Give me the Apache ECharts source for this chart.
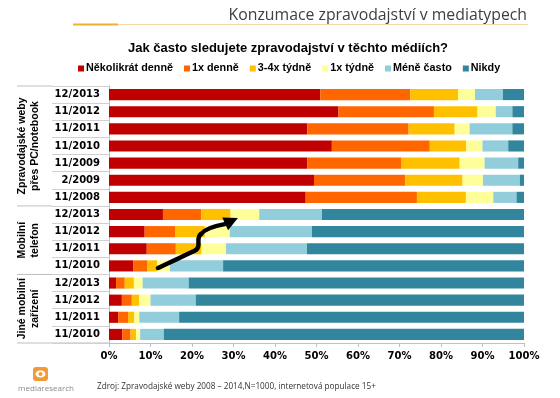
<!DOCTYPE html>
<html>
<head>
<meta charset="utf-8">
<script src="https://cdn.jsdelivr.net/npm/echarts@6/dist/echarts.min.js"></script>
<style>
  html, body { margin: 0; padding: 0; background: #fff; }
  #chart { width: 560px; height: 398px; }
</style>
</head>
<body>
<div id="chart"></div>
<script>
// rows top to bottom
var categories = [
  "12/2013", "11/2012", "11/2011", "11/2010", "11/2009", "2/2009", "11/2008",
  "12/2013", "11/2012", "11/2011", "11/2010",
  "12/2013", "11/2012", "11/2011", "11/2010"
];
var groupNames = [
  "Zpravodajské weby\npřes PC/notebook",
  "Mobilní\ntelefon",
  "Jiné mobilní\nzařízení"
];
var groupRows = [[0, 6], [7, 10], [11, 14]];

var seriesNames = ["Několikrát denně", "1x denně", "3-4x týdně", "1x týdně", "Méně často", "Nikdy"];
var nekolikrat = [50.9, 55.3, 47.8, 53.7, 47.8, 49.4, 47.4, 13.0, 8.6, 9.1, 5.9, 1.7, 3.1, 2.2, 3.2];
var denne1 = [21.7, 23.0, 24.4, 23.6, 22.7, 22.0, 26.8, 9.2, 7.3, 7.0, 3.4, 2.1, 2.4, 2.4, 2.0];
var tydne34 = [11.5, 10.5, 11.1, 8.8, 14.0, 13.8, 11.8, 7.1, 7.2, 6.2, 2.3, 2.2, 1.8, 1.5, 1.3];
var tydne1 = [4.1, 4.4, 3.6, 3.9, 6.0, 4.9, 6.6, 6.9, 6.0, 5.9, 3.1, 2.1, 2.7, 1.2, 1.0];
var meneCasto = [6.7, 4.0, 10.3, 6.2, 8.1, 8.9, 5.6, 15.1, 19.8, 19.5, 12.8, 11.1, 10.9, 9.6, 5.7];
var nikdy = [5.1, 2.8, 2.8, 3.8, 1.4, 1.0, 1.8, 48.7, 51.1, 52.3, 72.5, 80.8, 79.1, 83.1, 86.8];
var seriesData = [nekolikrat, denne1, tydne34, tydne1, meneCasto, nikdy];
var colors = ["#c00000", "#ff6600", "#ffc000", "#ffff99", "#92cddc", "#31859c"];

// arrow annotation in data space [value %, row index]: bezier pieces + tip
var arrowParts = [
  { from: [11.8, 10.12], cp1: [14.9, 9.77], cp2: [18.5, 9.37], to: [20.95, 9.07] },
  { from: [20.95, 9.07], cp1: [22.4, 8.84], cp2: [20.7, 8.43], to: [22.15, 8.14] },
  { from: [22.15, 8.14], cp1: [23.1, 7.85], cp2: [25.3, 7.67], to: [27.9, 7.56] }
];
var arrowTip = [31.06, 7.21];

var boldFont = "DejaVu Sans";
var chart = echarts.init(document.getElementById("chart"));

var series = seriesNames.map(function (name, i) {
  return {
    name: name,
    type: "bar",
    stack: "all",
    barCategoryGap: "35%",
    itemStyle: { color: colors[i] },
    data: seriesData[i]
  };
});

chart.setOption({
  animation: false,
  title: [
    {
      text: "Konzumace zpravodajství v mediatypech",
      right: 28,
      top: 2,
      textStyle: { fontFamily: "Open Sans", fontWeight: "normal", fontSize: 15.8, color: "#404040" }
    },
    {
      text: "Jak často sledujete zpravodajství v těchto médiích?",
      left: 283,
      textAlign: "center",
      top: 37,
      textStyle: { fontFamily: "Liberation Sans", fontWeight: "bold", fontSize: 13, color: "#000" }
    }
  ],
  legend: {
    top: 58,
    left: 73,
    itemWidth: 6,
    itemHeight: 6,
    itemGap: 11,
    icon: "rect",
    data: seriesNames,
    textStyle: { fontFamily: "Liberation Sans", fontWeight: "bold", fontSize: 10.8, color: "#000", padding: [0, 0, 0, -3] }
  },
  grid: { left: 109, right: 36, top: 86, bottom: 55 },
  xAxis: {
    type: "value",
    min: 0,
    max: 100,
    interval: 10,
    axisLine: { show: true, lineStyle: { color: "#bfbfbf" } },
    axisTick: { show: true, length: 4, lineStyle: { color: "#bfbfbf" } },
    splitLine: { show: false },
    axisLabel: {
      formatter: "{value}%",
      margin: 8,
      fontFamily: boldFont,
      fontWeight: "bold",
      fontSize: 10,
      color: "#000"
    }
  },
  yAxis: {
    type: "category",
    inverse: true,
    data: categories,
    axisLine: { show: true, lineStyle: { color: "#bfbfbf" } },
    axisTick: { show: true, length: 57, lineStyle: { color: "#d0d0d0" } },
    axisLabel: {
      margin: 9,
      fontFamily: boldFont,
      fontWeight: "bold",
      fontSize: 10,
      color: "#000"
    }
  },
  series: series
});

// graphics placed through the chart's own coordinate conversion
// (fractional rows are interpolated between two whole category rows)
function px(p) {
  var lo = Math.max(0, Math.min(categories.length - 2, Math.floor(p[1])));
  var a = chart.convertToPixel({ gridIndex: 0 }, [p[0], lo]);
  var b = chart.convertToPixel({ gridIndex: 0 }, [p[0], lo + 1]);
  return [a[0], a[1] + (p[1] - lo) * (b[1] - a[1])];
}
var graphics = [];
var lineLeft = 17, tickLeft = 52;

groupRows.forEach(function (g, i) {
  var yTop = px([0, g[0] - 0.5])[1];
  var yBot = px([0, g[1] + 0.5])[1];
  graphics.push({
    type: "line",
    shape: { x1: lineLeft, y1: yTop, x2: tickLeft, y2: yTop },
    style: { stroke: "#bfbfbf", lineWidth: 1 }
  });
  if (i === groupRows.length - 1) {
    graphics.push({
      type: "line",
      shape: { x1: lineLeft, y1: yBot, x2: 109, y2: yBot },
      style: { stroke: "#bfbfbf", lineWidth: 1 }
    });
  }
  graphics.push({
    type: "text",
    x: 29,
    y: (yTop + yBot) / 2,
    rotation: Math.PI / 2,
    style: {
      text: groupNames[i],
      fontFamily: "Liberation Sans",
      fontWeight: "bold",
      fontSize: 10.5,
      lineHeight: 13,
      fill: "#000",
      align: "center",
      verticalAlign: "middle"
    }
  });
});

// title underline
graphics.push({ type: "line", shape: { x1: 73, y1: 24.5, x2: 528, y2: 24.5 }, style: { stroke: "#f5d9a6", lineWidth: 1 } });
graphics.push({ type: "line", shape: { x1: 73, y1: 24.5, x2: 118, y2: 24.5 }, style: { stroke: "#f0b030", lineWidth: 2 } });

// arrow
arrowParts.forEach(function (b) {
  var a = px(b.from), c1 = px(b.cp1), c2 = px(b.cp2), e = px(b.to);
  graphics.push({
    type: "bezierCurve",
    z: 100,
    shape: { x1: a[0], y1: a[1], cpx1: c1[0], cpy1: c1[1], cpx2: c2[0], cpy2: c2[1], x2: e[0], y2: e[1] },
    style: { stroke: "#000", lineWidth: 4.5, fill: null, lineCap: "round" }
  });
});
var tip = px(arrowTip);
var last = px(arrowParts[arrowParts.length - 1].to);
var dx = tip[0] - last[0], dy = tip[1] - last[1];
var len = Math.sqrt(dx * dx + dy * dy);
dx /= len; dy /= len;
var hl = 14, hw = 7;
var bx = tip[0] - dx * hl, by = tip[1] - dy * hl;
graphics.push({
  type: "polygon",
  z: 100,
  shape: { points: [tip, [bx - dy * hw, by + dx * hw], [bx + dy * hw, by - dx * hw]] },
  style: { fill: "#000" }
});

// footer
graphics.push({
  type: "text",
  x: 97,
  y: 387,
  style: {
    text: "Zdroj: Zpravodajské weby 2008 – 2014,N=1000, internetová populace 15+",
    fontFamily: "Open Sans",
    fontSize: 8.2,
    fill: "#333",
    verticalAlign: "middle"
  }
});
// logo
graphics.push({ type: "rect", shape: { x: 33, y: 367, width: 15, height: 14, r: 3 }, style: { fill: "#f29a38" } });
graphics.push({ type: "ellipse", shape: { cx: 40.5, cy: 374, rx: 5, ry: 3.6 }, style: { fill: "#fff" } });
graphics.push({ type: "circle", shape: { cx: 40.5, cy: 374, r: 2 }, style: { fill: "#f29a38" } });
graphics.push({
  type: "text",
  x: 46,
  y: 389,
  style: { text: "mediaresearch", fontFamily: "Open Sans", fontSize: 8, fill: "#8a8a8a", align: "center", verticalAlign: "middle" }
});

chart.setOption({ graphic: graphics });
</script>
</body>
</html>
